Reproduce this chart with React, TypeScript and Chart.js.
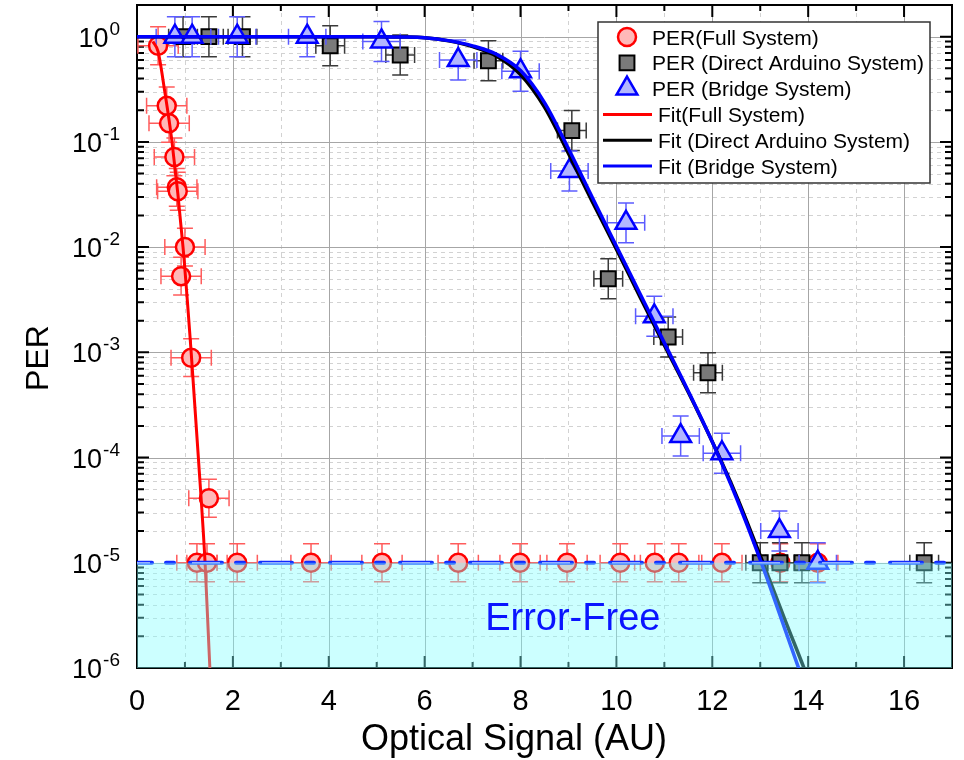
import React, { useEffect, useRef } from 'react';
import { Chart, registerables } from 'chart.js';

Chart.register(...registerables);

const FONT = '"Liberation Sans", Arial, Helvetica, sans-serif';

// ---- axes ----
const xMin = 0;
const xMax = 17;
const yMin = 1e-6;
const yMax = 2;
const xMajorTicks = [0, 2, 4, 6, 8, 10, 12, 14, 16];
const xMinorTicks = [1, 3, 5, 7, 9, 11, 13, 15, 17];
const yDecadeExponents = [0, -1, -2, -3, -4, -5, -6];
const xTitle = 'Optical Signal (AU)';
const yTitle = 'PER';

// ---- PER (Full System) ----
const fullX = [0.44, 0.62, 0.67, 0.78, 0.83, 0.85, 1.0, 0.92, 1.13, 1.5,
  1.25, 1.46, 2.09, 3.63, 5.11, 6.7, 7.99, 8.97, 10.08, 10.8, 11.3, 12.2, 13.42, 14.2];
const fullY = [0.82, 0.22, 0.15, 0.072, 0.037, 0.034, 0.01, 0.0053, 0.00089, 4.1e-5,
  1e-5, 1e-5, 1e-5, 1e-5, 1e-5, 1e-5, 1e-5, 1e-5, 1e-5, 1e-5, 1e-5, 1e-5, 1e-5, 1e-5];
const fullXErr = 0.42;
const fullYErrDecades = 0.18;

// ---- PER (Direct Arduino System) ----
const directX = [0.96, 1.5, 2.2, 4.03, 5.49, 7.33, 9.07, 9.83, 11.08, 11.91, 13.0, 13.41, 13.87, 16.42];
const directY = [1, 1, 1, 0.82, 0.67, 0.59, 0.128, 0.005, 0.0014, 0.00064, 1e-5, 1e-5, 1e-5, 1e-5];
const directXErr = 0.3;
const directYErrDecades = 0.19;

// ---- PER (Bridge System) ----
const bridgeX = [0.79, 1.15, 2.09, 3.55, 5.1, 6.7, 8.0, 9.02, 10.2, 10.79, 11.34, 12.2, 13.4, 14.2];
const bridgeY = [1, 1, 1, 1, 0.9, 0.6, 0.47, 0.053, 0.017, 0.0022, 1.6e-4, 1.1e-4, 2.0e-5, 1e-5];
const bridgeXErr = 0.39;
const bridgeYErrDecades = 0.19;

// ---- fits ----
const fitFullX = [0.33, 0.44, 0.57, 0.73, 0.96, 1.13, 1.28, 1.42, 1.52, 1.56];
const fitFullY = [0.9, 0.72, 0.32, 0.1, 0.01, 0.001, 1e-4, 1e-5, 1e-6, 5e-7];

const fitDirectX = [0, 5, 5.5, 6, 6.5, 7, 7.5, 8, 8.5, 9, 9.5, 10, 10.5, 11, 11.5, 12, 12.5, 13, 13.5, 14, 14.2];
const fitDirectY = [1, 1, 0.993, 0.977, 0.912, 0.804, 0.653, 0.437, 0.214, 0.0776, 0.0269, 0.00955, 0.00331,
  0.00117, 4.17e-4, 1.41e-4, 4.37e-5, 1.17e-5, 3.0e-6, 7.9e-7, 4.5e-7];

const fitBridgeX = [0, 5, 5.5, 6, 6.5, 7, 7.5, 8, 8.5, 9, 9.5, 10, 10.5, 11, 11.5, 12, 12.5, 13, 13.5, 14, 14.2];
const fitBridgeY = [1, 1, 0.993, 0.977, 0.917, 0.818, 0.68, 0.476, 0.236, 0.0861, 0.0295, 0.0102, 0.00355,
  0.00123, 4.27e-4, 1.41e-4, 4.17e-5, 1.07e-5, 2.45e-6, 5.5e-7, 3.0e-7];

// ---- error-free threshold ----
const thresholdX = [0, 17];
const thresholdY = [1e-5, 1e-5];
const errorFreeLabel = { x: 9.09, y: 2.86e-6, text: 'Error-Free' };

const legendLabels = [
  'PER(Full System)',
  'PER (Direct Arduino System)',
  'PER (Bridge System)',
  'Fit(Full System)',
  'Fit (Direct Arduino System)',
  'Fit (Bridge System)',
];

const pts = (xs: number[], ys: number[]) => xs.map((x, i) => ({ x, y: ys[i] }));

function drawMarker(ctx: CanvasRenderingContext2D, style: string, x: number, y: number, r: number,
  fill: string, stroke: string, bw: number) {
  ctx.save();
  ctx.beginPath();
  if (style === 'circle') {
    ctx.arc(x, y, r, 0, Math.PI * 2);
  } else if (style === 'rect') {
    const s = r * Math.SQRT1_2;
    ctx.rect(x - s, y - s, 2 * s, 2 * s);
  } else {
    ctx.moveTo(x, y - r);
    ctx.lineTo(x + r * Math.sin(Math.PI * 2 / 3), y + r / 2);
    ctx.lineTo(x - r * Math.sin(Math.PI * 2 / 3), y + r / 2);
    ctx.closePath();
  }
  ctx.fillStyle = fill;
  ctx.fill();
  ctx.lineWidth = bw;
  ctx.strokeStyle = stroke;
  ctx.stroke();
  ctx.restore();
}

const errorBarPlugin = {
  id: 'errorBars',
  beforeDatasetDraw(chart: any, args: any) {
    const ds = chart.data.datasets[args.index];
    if (ds.errX === undefined) return;
    const { ctx, chartArea: a } = chart;
    const xs = chart.scales.x;
    const ys = chart.scales.y;
    const cap = 8;
    ctx.save();
    ctx.beginPath();
    ctx.rect(a.left, a.top, a.right - a.left, a.bottom - a.top);
    ctx.clip();
    ctx.strokeStyle = ds.errColor;
    ctx.lineWidth = 1.5;
    const f = Math.pow(10, ds.errYDec);
    ds.data.forEach((p: any) => {
      const px = xs.getPixelForValue(p.x);
      const py = ys.getPixelForValue(p.y);
      const x0 = xs.getPixelForValue(p.x - ds.errX);
      const x1 = xs.getPixelForValue(p.x + ds.errX);
      const y0 = ys.getPixelForValue(p.y * f);
      const y1 = ys.getPixelForValue(p.y / f);
      ctx.beginPath();
      ctx.moveTo(x0, py); ctx.lineTo(x1, py);
      ctx.moveTo(x0, py - cap); ctx.lineTo(x0, py + cap);
      ctx.moveTo(x1, py - cap); ctx.lineTo(x1, py + cap);
      ctx.moveTo(px, y0); ctx.lineTo(px, y1);
      ctx.moveTo(px - cap, y0); ctx.lineTo(px + cap, y0);
      ctx.moveTo(px - cap, y1); ctx.lineTo(px + cap, y1);
      ctx.stroke();
    });
    ctx.restore();
  },
};

const decorPlugin = {
  id: 'decor',
  beforeDatasetsDraw(chart: any) {
    const { ctx, chartArea: a } = chart;
    const xs = chart.scales.x;
    const ys = chart.scales.y;
    const hLine = (py: number) => { ctx.beginPath(); ctx.moveTo(a.left, py); ctx.lineTo(a.right, py); ctx.stroke(); };
    const vLine = (px: number) => { ctx.beginPath(); ctx.moveTo(px, a.top); ctx.lineTo(px, a.bottom); ctx.stroke(); };
    ctx.save();
    // minor grid
    ctx.strokeStyle = '#d2d2d2';
    ctx.lineWidth = 1;
    ctx.setLineDash([4, 4]);
    xMinorTicks.forEach((v) => { if (v > xMin && v < xMax) vLine(Math.round(xs.getPixelForValue(v)) + 0.5); });
    yDecadeExponents.forEach((e) => {
      for (let k = 2; k <= 9; k++) {
        const v = k * Math.pow(10, e);
        if (v > yMin && v < yMax) hLine(Math.round(ys.getPixelForValue(v)) + 0.5);
      }
    });
    // major grid
    ctx.setLineDash([]);
    ctx.strokeStyle = '#a6a6a6';
    xMajorTicks.forEach((v) => { if (v > xMin && v < xMax) vLine(Math.round(xs.getPixelForValue(v)) + 0.5); });
    yDecadeExponents.forEach((e) => {
      const v = Math.pow(10, e);
      if (v > yMin && v < yMax) hLine(Math.round(ys.getPixelForValue(v)) + 0.5);
    });
    // inward ticks
    ctx.strokeStyle = '#000';
    ctx.lineWidth = 2;
    const xTick = (v: number, len: number) => {
      const px = xs.getPixelForValue(v);
      ctx.beginPath();
      ctx.moveTo(px, a.bottom); ctx.lineTo(px, a.bottom - len);
      ctx.moveTo(px, a.top); ctx.lineTo(px, a.top + len);
      ctx.stroke();
    };
    const yTick = (v: number, len: number) => {
      const py = ys.getPixelForValue(v);
      ctx.beginPath();
      ctx.moveTo(a.left, py); ctx.lineTo(a.left + len, py);
      ctx.moveTo(a.right, py); ctx.lineTo(a.right - len, py);
      ctx.stroke();
    };
    xMajorTicks.forEach((v) => xTick(v, 12));
    xMinorTicks.forEach((v) => xTick(v, 6));
    yDecadeExponents.forEach((e) => {
      yTick(Math.pow(10, e), 12);
      for (let k = 2; k <= 9; k++) {
        const v = k * Math.pow(10, e);
        if (v < yMax) yTick(v, 7);
      }
    });
    // frame
    ctx.strokeRect(a.left, a.top, a.right - a.left, a.bottom - a.top);
    ctx.restore();
  },
  afterDraw(chart: any) {
    const { ctx, chartArea: a } = chart;
    const xs = chart.scales.x;
    const ys = chart.scales.y;
    ctx.save();
    ctx.fillStyle = '#000';
    // x tick labels
    ctx.font = `29px ${FONT}`;
    ctx.textAlign = 'center';
    ctx.textBaseline = 'alphabetic';
    xMajorTicks.forEach((v) => ctx.fillText(String(v), xs.getPixelForValue(v), a.bottom + 42));
    // y tick labels 10^e
    yDecadeExponents.forEach((e) => {
      const py = ys.getPixelForValue(Math.pow(10, e));
      const exp = String(e);
      ctx.font = `19px ${FONT}`;
      const supW = ctx.measureText(exp).width;
      ctx.font = `27px ${FONT}`;
      const baseW = ctx.measureText('10').width;
      const x0 = a.left - 18 - supW - baseW;
      ctx.textAlign = 'left';
      ctx.fillText('10', x0, py + 10);
      ctx.font = `19px ${FONT}`;
      ctx.fillText(exp, x0 + baseW + 1, py - 2);
    });
    // axis titles
    ctx.font = `36px ${FONT}`;
    ctx.textAlign = 'center';
    ctx.fillText(xTitle, 514, a.bottom + 82);
    ctx.save();
    ctx.translate(48, 358);
    ctx.rotate(-Math.PI / 2);
    ctx.font = `32px ${FONT}`;
    ctx.fillText(yTitle, 0, 0);
    ctx.restore();
    // Error-Free label
    ctx.font = `38px ${FONT}`;
    ctx.fillStyle = '#0a14ff';
    ctx.textAlign = 'center';
    ctx.textBaseline = 'middle';
    ctx.fillText(errorFreeLabel.text, xs.getPixelForValue(errorFreeLabel.x), ys.getPixelForValue(errorFreeLabel.y));
    // legend
    const bx = a.right - 354;
    const by = a.top + 17;
    const bw = 332;
    const bh = 161;
    ctx.fillStyle = '#fff';
    ctx.fillRect(bx, by, bw, bh);
    ctx.strokeStyle = '#333';
    ctx.lineWidth = 1.5;
    ctx.strokeRect(bx, by, bw, bh);
    ctx.font = `21px ${FONT}`;
    ctx.textAlign = 'left';
    ctx.textBaseline = 'alphabetic';
    const items = chart.data.datasets.filter((d: any) => d.legendIndex !== undefined)
      .sort((p: any, q: any) => p.legendIndex - q.legendIndex);
    items.forEach((d: any, i: number) => {
      const cy = by + 15 + i * 25.8;
      if (d.legendKind === 'marker') {
        drawMarker(ctx, d.pointStyle, bx + 29, cy, d.legendRadius, d.backgroundColor, d.borderColor, d.borderWidth);
        ctx.fillStyle = '#000';
        ctx.fillText(d.label, bx + 54, cy + 7.5);
      } else {
        ctx.strokeStyle = d.borderColor;
        ctx.lineWidth = 3;
        ctx.beginPath();
        ctx.moveTo(bx + 5, cy); ctx.lineTo(bx + 54, cy);
        ctx.stroke();
        ctx.fillStyle = '#000';
        ctx.fillText(d.label, bx + 60, cy + 7.5);
      }
    });
    ctx.restore();
  },
};

export default function App() {
  const ref = useRef<HTMLCanvasElement | null>(null);
  useEffect(() => {
    document.body.style.margin = '0';
    const canvas = ref.current;
    if (!canvas) return;
    const fitLine = (label: string, xs: number[], ys: number[], color: string, width: number, order: number, legendIndex: number) => ({
      type: 'line',
      label,
      data: pts(xs, ys),
      borderColor: color,
      backgroundColor: color,
      borderWidth: width,
      pointRadius: 0,
      showLine: true,
      fill: false,
      cubicInterpolationMode: 'monotone',
      order,
      legendIndex,
      legendKind: 'line',
    });
    const chart = new Chart(canvas, {
      type: 'scatter',
      data: {
        datasets: [
          {
            type: 'line',
            label: 'error-free region',
            data: pts(thresholdX, thresholdY),
            borderWidth: 0,
            pointRadius: 0,
            fill: 'start',
            backgroundColor: 'rgba(128,255,255,0.4)',
            order: 0,
          },
          {
            type: 'line',
            label: 'threshold inner',
            data: pts(thresholdX, thresholdY),
            borderColor: '#9aa6ff',
            borderWidth: 1.5,
            borderDash: [28, 42],
            borderDashOffset: 15,
            pointRadius: 0,
            fill: false,
            order: 1,
          },
          {
            type: 'line',
            label: 'threshold',
            data: pts(thresholdX, thresholdY),
            borderColor: '#1028ff',
            borderWidth: 4,
            borderDash: [32, 14, 8, 16],
            borderDashOffset: 17,
            borderCapStyle: 'round',
            pointRadius: 0,
            fill: false,
            order: 2,
          },
          fitLine(legendLabels[3], fitFullX, fitFullY, '#ff0000', 3, 3, 3),
          fitLine(legendLabels[5], fitBridgeX, fitBridgeY, '#0000ff', 3.5, 4, 5),
          fitLine(legendLabels[4], fitDirectX, fitDirectY, '#000000', 3.5, 5, 4),
          {
            type: 'scatter',
            label: legendLabels[2],
            data: pts(bridgeX, bridgeY),
            pointStyle: 'triangle',
            pointRadius: 12,
            backgroundColor: '#b2b6ff',
            borderColor: '#0000ff',
            borderWidth: 2.5,
            order: 6,
            errX: bridgeXErr,
            errYDec: bridgeYErrDecades,
            errColor: '#5c5cff',
            legendIndex: 2,
            legendKind: 'marker',
            legendRadius: 12,
          },
          {
            type: 'scatter',
            label: legendLabels[1],
            data: pts(directX, directY),
            pointStyle: 'rect',
            pointRadius: 10.5,
            backgroundColor: '#7a7a7a',
            borderColor: '#000000',
            borderWidth: 2,
            order: 7,
            errX: directXErr,
            errYDec: directYErrDecades,
            errColor: '#3a3a3a',
            legendIndex: 1,
            legendKind: 'marker',
            legendRadius: 10.5,
          },
          {
            type: 'scatter',
            label: legendLabels[0],
            data: pts(fullX, fullY),
            pointStyle: 'circle',
            pointRadius: 9,
            backgroundColor: '#ffb8b8',
            borderColor: '#ff0000',
            borderWidth: 2.5,
            order: 8,
            errX: fullXErr,
            errYDec: fullYErrDecades,
            errColor: '#ff5c5c',
            legendIndex: 0,
            legendKind: 'marker',
            legendRadius: 9,
          },
        ] as any,
      },
      options: {
        animation: false,
        responsive: false,
        devicePixelRatio: 1,
        layout: { autoPadding: false, padding: { left: 137, top: 5, right: 12, bottom: 92 } },
        plugins: { legend: { display: false }, tooltip: { enabled: false } },
        scales: {
          x: { type: 'linear', min: xMin, max: xMax, display: false },
          y: { type: 'logarithmic', min: yMin, max: yMax, display: false },
        },
      } as any,
      plugins: [decorPlugin, errorBarPlugin],
    });
    return () => chart.destroy();
  }, []);
  return <canvas ref={ref} width={964} height={760} style={{ display: 'block' }} />;
}
